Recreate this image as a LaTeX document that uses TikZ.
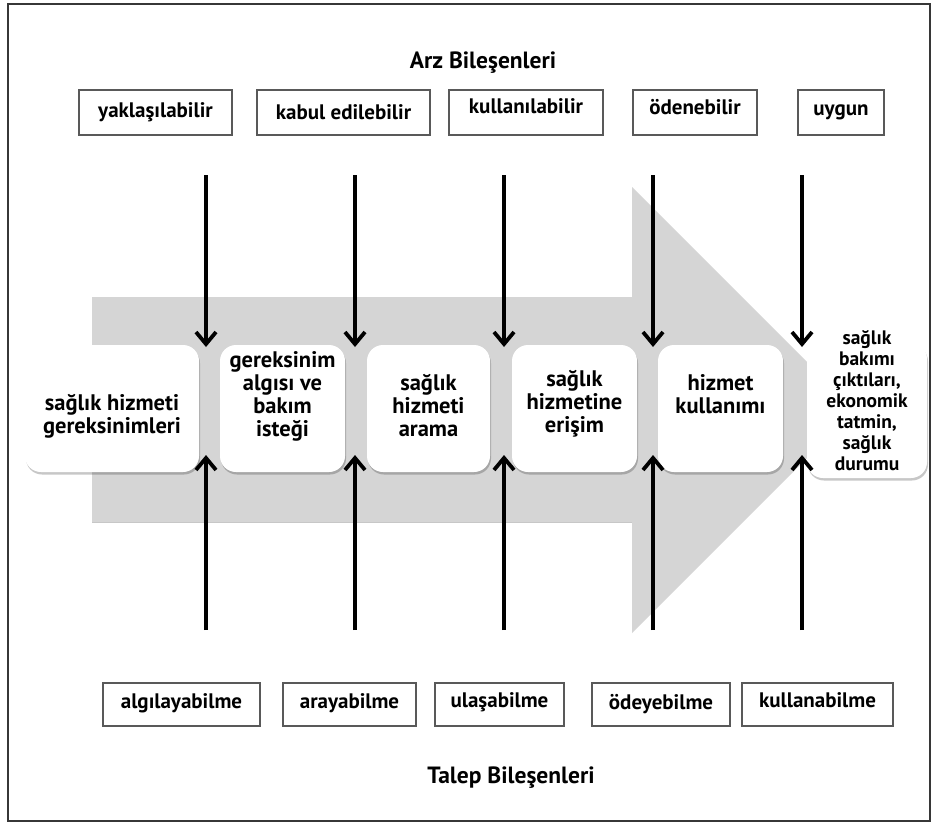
\documentclass[tikz,border=0pt]{standalone}
\usepackage{fontspec}
\setmainfont{PT Sans}
\usetikzlibrary{arrows.meta,shadows}
\definecolor{bandgray}{RGB}{213,213,213}
\definecolor{framegray}{RGB}{55,55,55}
\tikzset{
  labelbox/.style={draw=black!65, line width=1.4pt, fill=white, inner sep=0pt,
    drop shadow={shadow xshift=0.8pt, shadow yshift=-1.2pt, fill=black, opacity=0.25},
    font=\bfseries\fontsize{21}{24}\selectfont},
  stagebox/.style={fill=white, rounded corners=16pt, inner sep=0pt,
    drop shadow={shadow xshift=1pt, shadow yshift=-2.5pt, fill=black, opacity=0.22}},
  stagetext/.style={align=center, inner sep=0pt, font=\bfseries\fontsize{22.5}{23}\selectfont},
  titletext/.style={font=\bfseries\fontsize{23.5}{27}\selectfont, inner sep=0pt},
  arr/.style={line width=3.8pt, -{Straight Barb[length=12pt,width=20pt]}}
}
\begin{document}
\begin{tikzpicture}[x=1pt,y=-1pt]
\useasboundingbox (0,0) rectangle (936,825);
\fill[white] (0,0) rectangle (936,825);
\draw[framegray, line width=1.8pt] (8,4) rectangle (930,821);

% big grey arrow
\fill[bandgray] (92,297) -- (632,297) -- (632,187) -- (855,410) -- (632,633)
  -- (632,522) -- (92,522) -- cycle;
\draw[black!22, line width=1.2pt] (92,522.5) -- (632,522.5);

% titles
\node[titletext] (arz) at (483,63) {Arz Bileşenleri};
\node[titletext] (talep) at (511,778) {Talep Bileşenleri};

% top label boxes
\node[labelbox, minimum width=153pt, minimum height=45pt] (s1) at (155.5,112.5) {yaklaşılabilir};
\node[labelbox, minimum width=173pt, minimum height=45pt] (s2) at (343.5,112.5) {kabul edilebilir};
\node[labelbox, minimum width=154pt, minimum height=45pt] (s3) at (526,112.5) {\raisebox{12pt}{kullanılabilir}};
\node[labelbox, minimum width=124pt, minimum height=45pt] (s4) at (695,112.5) {\raisebox{12pt}{ödenebilir}};
\node[labelbox, minimum width=86pt, minimum height=45pt] (s5) at (841,112.5) {uygun};

% bottom label boxes
\node[labelbox, minimum width=157pt, minimum height=43pt] (d1) at (181.5,704.5) {\raisebox{6pt}{algılayabilme}};
\node[labelbox, minimum width=133pt, minimum height=43pt] (d2) at (349.5,704.5) {\raisebox{6pt}{arayabilme}};
\node[labelbox, minimum width=129pt, minimum height=43pt] (d3) at (499.5,704.5) {\raisebox{8pt}{ulaşabilme}};
\node[labelbox, minimum width=138pt, minimum height=43pt] (d4) at (661,704.5) {ödeyebilme};
\node[labelbox, minimum width=151pt, minimum height=43pt] (d5) at (817.5,704.5) {\raisebox{8pt}{kullanabilme}};

% stage boxes
\node[stagebox, minimum width=174pt, minimum height=127pt] (m1) at (112,408.5) {};
\node[stagebox, minimum width=125pt, minimum height=127pt] (m2) at (282.5,408.5) {};
\node[stagebox, minimum width=123pt, minimum height=127pt] (m3) at (428.5,408.5) {};
\node[stagebox, minimum width=125pt, minimum height=127pt] (m4) at (574.5,408.5) {};
\node[stagebox, minimum width=125pt, minimum height=127pt] (m5) at (720.5,408.5) {};
\node[stagebox, minimum width=120pt, minimum height=135pt] (m6) at (867,410.5) {};

\node[stagetext] (m1t) at ([yshift=-8pt]m1.center) {sağlık hizmeti\\gereksinimleri};
\node[stagetext] (m2t) at ([yshift=12pt]m2.center) {gereksinim\\algısı ve\\bakım\\isteği};
\node[stagetext] (m3t) at ([yshift=3pt]m3.center) {sağlık\\hizmeti\\arama};
\node[stagetext] (m4t) at ([yshift=5pt]m4.center) {sağlık\\hizmetine\\erişim};
\node[stagetext] (m5t) at ([yshift=14pt]m5.center) {hizmet\\kullanımı};
\node[stagetext, font=\bfseries\fontsize{19.5}{21}\selectfont] (m6t) at ([yshift=10pt]m6.center) {sağlık\\bakımı\\çıktıları,\\ekonomik\\tatmin,\\sağlık\\durumu};

% arrows
\foreach \i/\x in {1/206,2/355,3/504,4/653,5/802}{
  \coordinate (ta\i) at (\x,175);
  \coordinate (tb\i) at (\x,347);
  \coordinate (ba\i) at (\x,630);
  \coordinate (bb\i) at (\x,455);
  \draw[arr] (ta\i) -- (tb\i);
  \draw[arr] (ba\i) -- (bb\i);
}
\end{tikzpicture}
\end{document}
